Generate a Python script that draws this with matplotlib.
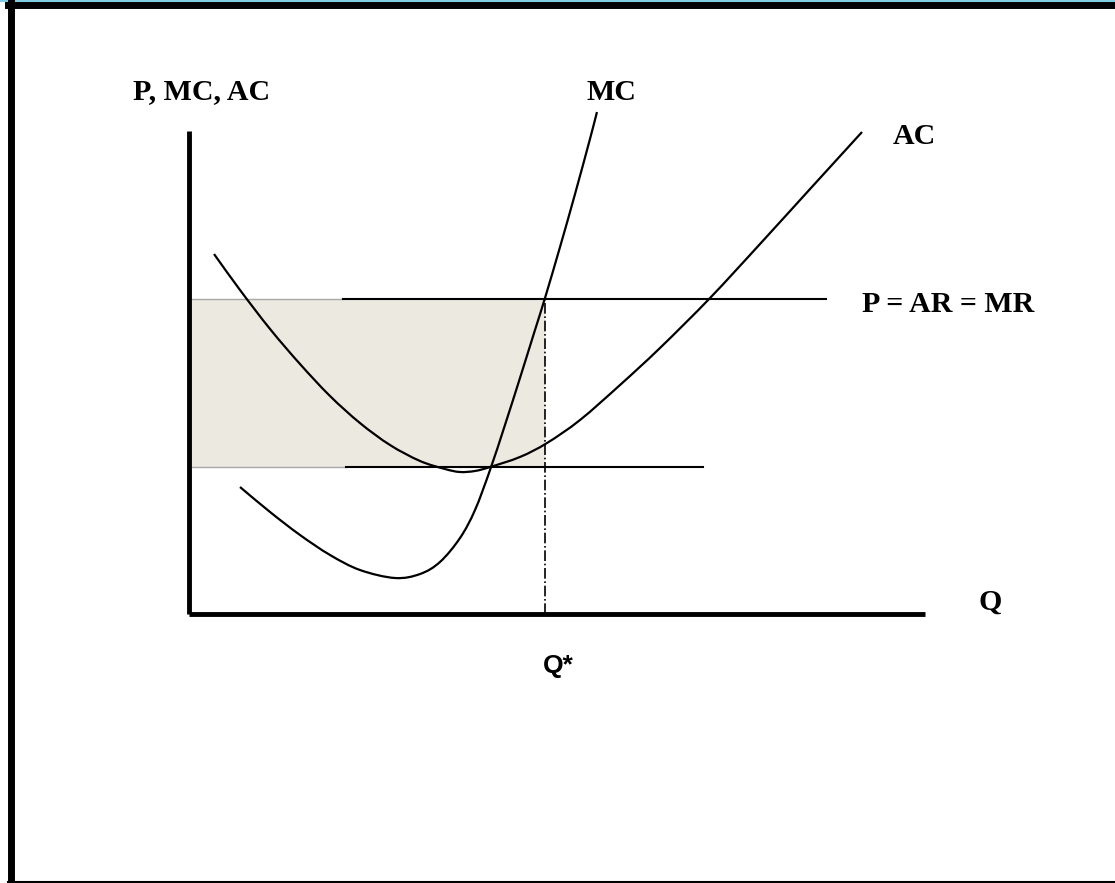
import numpy as np
import matplotlib
matplotlib.use("Agg")
import matplotlib.pyplot as plt
from matplotlib.patches import Rectangle, PathPatch
from matplotlib.path import Path
from matplotlib.lines import Line2D

# MC curve (Q, cost)
mc_q = [6.93, 11.01, 15.08, 19.16, 23.23, 27.99, 31.39, 34.10, 36.82, 38.86, 40.90, 42.93,
        44.97, 47.01, 48.37, 50.41, 52.45, 54.48, 55.43]
mc_p = [26.29, 21.12, 16.36, 12.22, 9.11, 7.45, 8.28, 10.77, 15.73, 21.53, 29.81, 39.13,
        48.86, 58.80, 65.42, 75.98, 86.96, 98.34, 103.93]

# AC curve (Q, cost)
ac_q = [3.40, 6.93, 11.01, 15.08, 19.16, 23.23, 27.31, 31.39, 34.78, 36.82, 38.86, 40.90,
        44.97, 48.64, 53.13, 58.56, 63.99, 70.79, 77.58, 84.38, 91.44]
ac_p = [74.53, 67.08, 59.01, 51.76, 45.13, 39.54, 34.99, 31.68, 30.02, 29.40, 29.61, 30.43,
        32.51, 35.40, 40.17, 47.41, 55.07, 65.42, 76.60, 87.99, 99.79]

price = 65.2          # P = AR = MR
price_span = [20.9, 86.5]
ac_star = 30.4        # AC at Q*
ac_span = [21.3, 69.8]
q_star = 48.4


def smooth_path(xs, ys):
    # catmull-rom through the points, drawn as cubic bezier segments
    pts = np.column_stack([xs, ys]).astype(float)
    ext = np.vstack([2 * pts[0] - pts[1], pts, 2 * pts[-1] - pts[-2]])
    verts = [pts[0]]
    codes = [Path.MOVETO]
    for i in range(1, len(ext) - 2):
        p0, p1, p2, p3 = ext[i - 1], ext[i], ext[i + 1], ext[i + 2]
        verts += [p1 + (p2 - p0) / 6, p2 - (p3 - p1) / 6, p2]
        codes += [Path.CURVE4] * 3
    return Path(verts, codes)


W, H = 1115, 883
fig = plt.figure(figsize=(W / 100, H / 100), dpi=100)
ax = fig.add_axes([0, 0, 1, 1])
ax.set_xlim(-189 / 7.36, (W - 189) / 7.36)
ax.set_ylim(-269 / 4.83, (H - 269) / 4.83)
ax.axis('off')

# slide frame
fig.add_artist(Line2D([0, 1], [1 - 1 / H, 1 - 1 / H], color='#7ecbe3', lw=1.5))
fig.add_artist(Line2D([11 / W, 11 / W], [0, 1 - 2 / H], color='black', lw=5))
fig.add_artist(Line2D([8 / W, 1], [1 - 5 / H, 1 - 5 / H], color='black', lw=5))
fig.add_artist(Line2D([8 / W, 1], [1.5 / H, 1.5 / H], color='black', lw=1.5))

# shaded profit area
ax.add_patch(Rectangle((0, ac_star), q_star, price - ac_star, facecolor='#ECEAE0',
                       edgecolor='none', zorder=1))
ax.plot([0, price_span[0]], [price, price], color='#a8a8a8', lw=1, zorder=2)
ax.plot([0, ac_span[0]], [ac_star, ac_star], color='#a8a8a8', lw=1, zorder=2)

# horizontal lines
ax.plot(price_span, [price, price], color='black', lw=1.5, zorder=3)
ax.plot(ac_span, [ac_star, ac_star], color='black', lw=1.5, zorder=3)

# Q* drop line
ax.plot([q_star, q_star], [0, price], color='black', lw=1.2, ls='-.', zorder=3)

# curves
for xs, ys in [(mc_q, mc_p), (ac_q, ac_p)]:
    ax.add_patch(PathPatch(smooth_path(xs, ys), facecolor='none', edgecolor='black',
                           lw=1.6, zorder=4))

# axes
ax.plot([0, 0], [0, 100], color='black', lw=3.5, solid_capstyle='butt', zorder=5)
ax.plot([0, 100], [0, 0], color='black', lw=3.5, solid_capstyle='butt', zorder=5)

serif = dict(family='Liberation Serif', weight='bold', fontsize=21.5)
fig.text(133 / W, 1 - 92 / H, 'P, MC, AC', ha='left', va='center', **serif)
fig.text(586 / W, 1 - 93 / H, 'MC', ha='left', va='center', **serif)
fig.text(893 / W, 1 - 136 / H, 'AC', ha='left', va='center', **serif)
fig.text(862 / W, 1 - 304 / H, 'P = AR = MR', ha='left', va='center', **serif)
fig.text(978 / W, 1 - 602 / H, 'Q', ha='left', va='center', **serif)
fig.text(543 / W, 1 - 666 / H, 'Q*', ha='left', va='center',
         family='Liberation Sans', weight='bold', fontsize=19)

fig.savefig('out.png', dpi=100)
